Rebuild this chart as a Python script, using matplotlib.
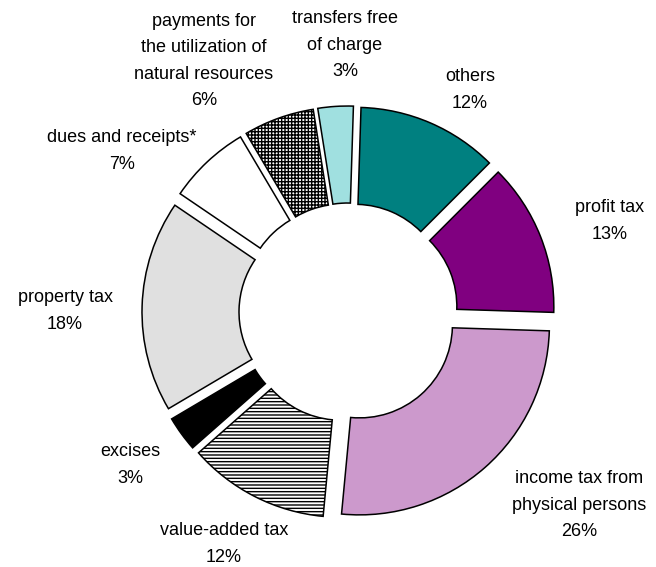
import matplotlib
matplotlib.use("Agg")
import matplotlib.pyplot as plt

plt.rcParams['font.family'] = ['Liberation Sans', 'DejaVu Sans']
plt.rcParams['hatch.linewidth'] = 1.0

categories = ["others", "profit tax", "income tax from\nphysical persons", "value-added tax",
              "excises", "property tax", "dues and receipts*",
              "payments for\nthe utilization of\nnatural resources", "transfers free\nof charge"]
values = [12, 13, 26, 12, 3, 18, 7, 6, 3]
value_labels = ["12%", "13%", "26%", "12%", "3%", "18%", "7%", "6%", "3%"]

colors = ["#008080", "#800080", "#CC99CC", "#FFFFFF", "#000000", "#E0E0E0", "#FFFFFF", "#FFFFFF", "#A0E0E0"]
hatches = [None, None, None, "-----", None, None, None, "+++++", None]
explode = [16.5] * len(values)

W, H = 656, 567
cx, cy = 348.5, 312.5
R_out, R_in = 190, 93

fig = plt.figure(figsize=(W / 100, H / 100), dpi=100)
ax = fig.add_axes([0, 0, 1, 1])

wedges, _ = ax.pie(values, radius=R_out, startangle=88.2, counterclock=False,
                   colors=colors, explode=explode,
                   wedgeprops=dict(width=R_out - R_in, edgecolor="black", linewidth=1.1))
for w, h in zip(wedges, hatches):
    if h:
        w.set_hatch(h)

ax.set_xlim(-cx, W - cx)
ax.set_ylim(-(H - cy), cy)
ax.set_aspect('equal')
ax.axis('off')

# label centers in pixel coords (x, y from top)
label_pos = [(470, 90), (610, 221), (579, 505), (224, 544), (130, 465),
             (65, 311), (122, 151), (204, 61), (345, 45)]
for cat, vl, (px, py) in zip(categories, value_labels, label_pos):
    ax.text(px - cx, cy - py, f"{cat}\n{vl}", ha='center', va='center',
            multialignment='center', fontsize=13, linespacing=1.7, color='black')

fig.savefig("out.png", dpi=100)
